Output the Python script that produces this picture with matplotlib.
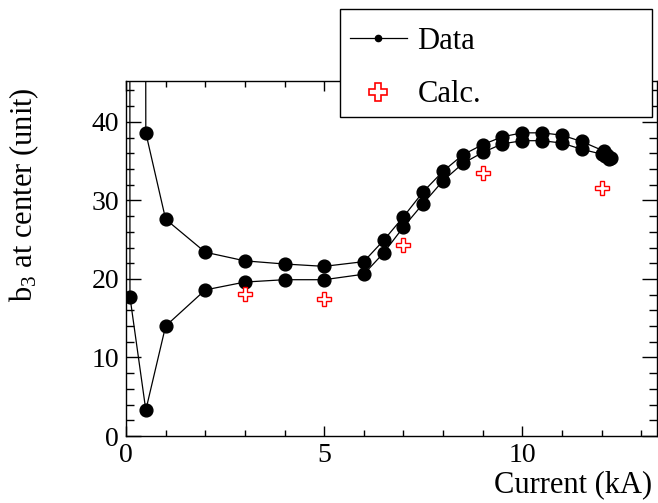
import matplotlib
matplotlib.use("Agg")
import matplotlib.pyplot as plt
from matplotlib.lines import Line2D
from matplotlib.patches import Rectangle

plt.rcParams['font.family'] = ['Liberation Serif', 'DejaVu Serif']
plt.rcParams['mathtext.fontset'] = 'custom'
plt.rcParams['mathtext.rm'] = 'Liberation Serif'
plt.rcParams['mathtext.it'] = 'Liberation Serif:italic'

# Measured data (single sequence: ramp down then ramp up; two points far off-scale near 0 kA)
current = [12.25, 12.15, 12.05, 11.5, 11.0, 10.5, 10.0, 9.5, 9.0, 8.5, 8.0, 7.5, 7.0, 6.5, 6.0,
           5.0, 4.0, 3.0, 2.0, 1.0, 0.5, 0.45, 0.07, 0.1, 0.5, 1.0, 2.0, 3.0, 4.0, 5.0,
           6.0, 6.5, 7.0, 7.5, 8.0, 8.5, 9.0, 9.5, 10.0, 10.5, 11.0, 11.5, 12.0, 12.1, 12.2]
b3 = [35.4, 35.8, 36.3, 37.5, 38.3, 38.6, 38.6, 38.1, 37.1, 35.8, 33.7, 31.1, 27.9, 24.9, 22.2,
      21.6, 21.9, 22.3, 23.4, 27.6, 38.6, 250.0, 400.0, 17.7, 3.3, 14.0, 18.6, 19.6, 19.9, 19.9,
      20.6, 23.3, 26.6, 29.6, 32.5, 34.7, 36.1, 37.2, 37.6, 37.6, 37.3, 36.5, 35.9, 35.6, 35.3]

calc_current = [3, 5, 7, 9, 12]
calc_b3 = [18.1, 17.4, 24.3, 33.5, 31.6]

x_ticks = [0, 5, 10]
y_ticks = [0, 10, 20, 30, 40]

W, H = 658, 503
fig = plt.figure(figsize=(W / 100, H / 100), dpi=100)
ax = fig.add_axes([126 / W, (H - 436) / H, (657 - 126) / W, (436 - 81) / H])

ax.plot(current, b3, color='black', lw=0.9, marker='o', markersize=9.2,
        markerfacecolor='black', markeredgecolor='black', zorder=3)
ax.plot(calc_current, calc_b3, linestyle='none', marker='P', markersize=9.5,
        markerfacecolor='white', markeredgecolor='red', markeredgewidth=1.0, zorder=4)

ax.set_xlim(0, 13.4)
ax.set_ylim(0, 45.2)
ax.set_xticks(x_ticks)
ax.set_yticks(y_ticks)
ax.set_xticks([i for i in range(0, 14)], minor=True)
ax.set_yticks([i for i in range(0, 46, 2)], minor=True)

for s in ax.spines.values():
    s.set_linewidth(1.0)

ax.tick_params(axis='both', which='both', direction='in', top=True, right=True, width=1.0,
               labelsize=20)
ax.tick_params(axis='x', which='major', length=7.5, pad=5)
ax.tick_params(axis='x', which='minor', length=4.5)
ax.tick_params(axis='y', which='major', length=11, pad=5)
ax.tick_params(axis='y', which='minor', length=5.5)

fig.text(652 / W, 1 - 492 / H, 'Current (kA)', ha='right', va='baseline', fontsize=22)
fig.text(24 / W, 1 - 87 / H, r'b$_{3}$ at center (unit)', rotation=90, ha='center', va='top',
         fontsize=22)

# legend box (drawn separately so the padding can match)
box = Rectangle((340 / W, 1 - 117 / H), (652 - 340) / W, (117 - 9) / H,
                transform=fig.transFigure, facecolor='white', edgecolor='black',
                linewidth=1.0, zorder=5)
fig.patches.append(box)

handles = [
    Line2D([], [], color='black', lw=0.9, marker='o', markersize=4.5,
           markerfacecolor='black', markeredgecolor='black'),
    Line2D([], [], linestyle='none', marker='P', markersize=13,
           markerfacecolor='white', markeredgecolor='red', markeredgewidth=1.2),
]
leg = fig.legend(handles, ['Data', 'Calc.'], loc='upper left',
                 bbox_to_anchor=(350 / W, 1 - 27 / H),
                 fontsize=22, frameon=False, borderpad=0.0, labelspacing=0.8,
                 handlelength=1.86, handletextpad=0.35, borderaxespad=0.0)
leg.set_zorder(6)

fig.savefig('out.png', dpi=100)
